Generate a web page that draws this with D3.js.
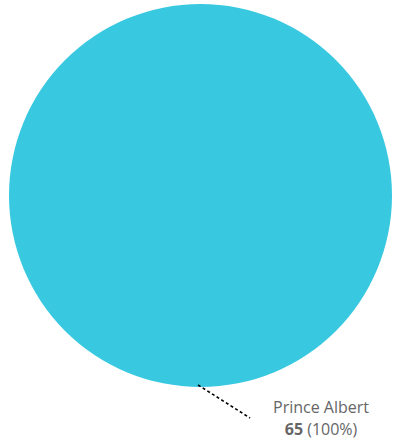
<!DOCTYPE html>
<html><head><meta charset="utf-8">
<script src="https://cdn.jsdelivr.net/npm/d3@7"></script>
<style>html,body{margin:0;padding:0;background:#fff;}svg{display:block;}</style>
</head><body>
<svg id="c" width="393" height="441"></svg>
<script>
const categories = ["Prince Albert"];
const values = [65];
const colors = ["#38C9E1"];

const svg = d3.select("#c");
const cx = 200.5, cy = 195.5, r = 191.5;
const total = d3.sum(values);
const pie = d3.pie().sort(null).value(d => d)(values);
const arc = d3.arc().innerRadius(0).outerRadius(r);
const g = svg.append("g").attr("transform", `translate(${cx},${cy})`);
g.selectAll("path").data(pie).join("path")
  .attr("d", arc).attr("fill", (d,i) => colors[i]);

pie.forEach((d,i) => {
  const mid = (d.startAngle + d.endAngle) / 2 + 0.013;
  const x0 = Math.sin(mid) * (r - 2), y0 = -Math.cos(mid) * (r - 2);
  const x1 = x0 + 52, y1 = y0 + 33;
  g.append("line").attr("x1", x0).attr("y1", y0).attr("x2", x1).attr("y2", y1)
    .attr("stroke", "#000").attr("stroke-width", 1.6).attr("stroke-dasharray", "3,2.5");
  const t = g.append("text").attr("text-anchor", "middle")
    .attr("font-family", "'Open Sans', 'Noto Sans', sans-serif").attr("font-size", 16).attr("fill", "#666");
  t.append("tspan").attr("x", x1 + 71).attr("y", y1 - 5).text(categories[i]);
  const t2 = t.append("tspan").attr("x", x1 + 71).attr("y", y1 + 17);
  t2.append("tspan").attr("font-weight", "bold").text(values[i]);
  t2.append("tspan").text(" (" + Math.round(values[i] / total * 100) + "%)");
});
</script>
</body></html>
